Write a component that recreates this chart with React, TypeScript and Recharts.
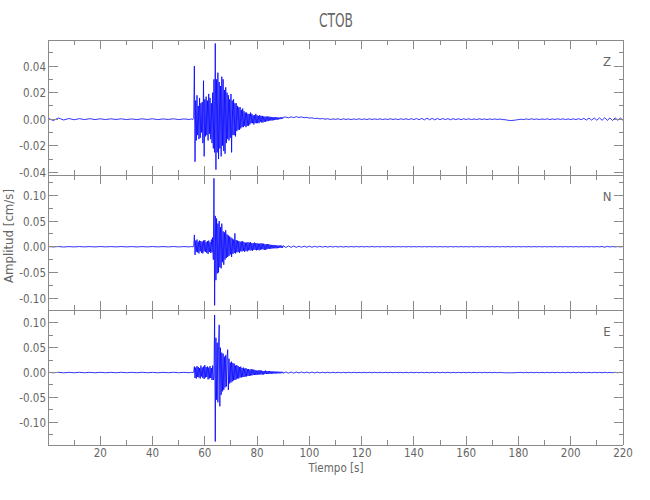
import React from 'react';
import { LineChart, Line, XAxis, YAxis } from 'recharts';

// ---- sample times (s) ----
const time = [
  0, 2, 4, 6, 8, 10, 12, 14, 16, 18, 20, 22, 24, 26, 28, 30, 32, 34, 36, 38, 40, 42, 44, 46, 48, 50, 52, 54, 55, 55.5,
  55.75,
  56, 56.25, 56.5, 56.75,
  57, 57.25, 57.5, 57.75,
  58, 58.25, 58.5, 58.75,
  59, 59.25, 59.5, 59.75,
  60, 60.25, 60.5, 60.75,
  61, 61.25, 61.5, 61.75,
  62, 62.25, 62.5, 62.75,
  63, 63.25, 63.5, 63.75,
  64, 64.25, 64.5, 64.75,
  65, 65.25, 65.5, 65.75,
  66, 66.25, 66.5, 66.75,
  67, 67.25, 67.5, 67.75,
  68, 68.25, 68.5, 68.75,
  69, 69.25, 69.5, 69.75,
  70, 70.25, 70.5, 70.75,
  71, 71.25, 71.5, 71.75,
  72, 72.25, 72.5, 72.75,
  73, 73.25, 73.5, 73.75,
  74, 74.25, 74.5, 74.75,
  75, 75.25, 75.5, 75.75,
  76, 76.25, 76.5, 76.75,
  77, 77.25, 77.5, 77.75,
  78, 78.25, 78.5, 78.75,
  79, 79.25, 79.5, 79.75,
  80, 80.25, 80.5, 80.75,
  81, 81.25, 81.5, 81.75,
  82, 82.25, 82.5, 82.75,
  83, 83.25, 83.5, 83.75,
  84, 84.25, 84.5, 84.75,
  85, 85.25, 85.5, 85.75,
  86, 86.25, 86.5, 86.75,
  87, 87.25, 87.5, 87.75,
  88, 88.25, 88.5, 88.75,
  89, 89.25, 89.5, 89.75,
  90,
  91, 92, 93, 94, 95, 96, 97, 98, 99, 100,
  101, 102, 103, 104, 105, 106, 107, 108, 109, 110,
  111, 112, 113, 114, 115, 116, 117, 118, 119, 120,
  121, 122, 123, 124, 125, 126, 127, 128, 129, 130,
  131, 132, 133, 134, 135, 136, 137, 138, 139, 140,
  141, 142, 143, 144, 145, 146, 147, 148, 149, 150,
  151, 152, 153, 154, 155, 156, 157, 158, 159, 160,
  161, 162, 163, 164, 165, 166, 167, 168, 169, 170,
  171, 172, 173, 174, 175, 176, 177, 178, 179, 180,
  181, 182, 183, 184, 185, 186, 187, 188, 189, 190,
  191, 192, 193, 194, 195, 196, 197, 198, 199, 200,
  201, 202, 203, 204, 205, 206, 207, 208, 209, 210,
  211, 212, 213, 214, 215, 216, 217, 218, 219, 220,
];

// ---- amplitudes, in units of 0.001 cm/s ----
const zMilli = [
  0.8, -1, 0.9, -0.6, 0.5, -0.4, 0.4, -0.3, 0.4, -0.3,
  0.3, -0.3, 0.3, -0.2, 0.3, -0.3, 0.2, -0.3, 0.3, -0.2,
  0.3, -0.3, 0.2, -0.2, 0.3, -0.3, 0.2, -0.2, 0.2, -0.2,
  0.4,
  40, -32, 14, -16,
  18, -12, 10, -15,
  16, -14, 12, -10,
  13, -18, 29, -28,
  15, -13, 17, -12,
  14, -16, 19, -11,
  16, -15, 12, -18,
  20, -22, 30, -25,
  57, -38, 30, -25,
  35, -30, 28, -22,
  25, -28, 32, -20,
  30, -24, 22, -26,
  24, -18, 20, -15,
  18, -16, 15, -14,
  19, -25, 14, -12,
  15, -12, 12, -13,
  12, -9, 10, -8,
  9, -8, 9, -7,
  7, -6, 8, -6,
  6, -5, 5, -6,
  5, -5, 4, -5,
  4, -4, 5, -3,
  4, -3, 3, -4,
  3, -3, 4, -3,
  3, -3, 2.5, -3,
  3, -2, 2.5, -2.5,
  2.5, -2.5, 2, -2,
  2, -2, 2, -1.5,
  2, -1.5, 2, -1,
  1.8, -1, 1.5, -1,
  1.5, -0.8, 1.6, -0.6,
  1.5, -0.5, 1.4, -0.3,
  1.4, -0.2, 1.2, 0,
  1.4, 0.2, 1.5, 0.4,
  1.5,
  1.6, 1.0, 1.8, 1.2, 1.9, 1.3, 1.7, 1.1, 1.4, 0.8,
  1.0, 0.5, 0.7, 0.2, 0.5, 0.0, 0.3, -0.2, 0.2, -0.1,
  0.3, -0.3, 0.3, -0.2, 0.2, -0.3, 0.2, -0.2, 0.3, -0.2,
  0.2, -0.3, 0.3, -0.2, 0.2, -0.2, 0.3, -0.3, 0.2, -0.2,
  0.3, -0.2, 0.2, -0.3, 0.3, -0.2, 0.3, -0.3, 0.4, -0.3,
  0.5, -0.4, 0.6, -0.5, 0.7, -0.4, 0.6, -0.5, 0.6, -0.4,
  0.5, -0.3, 0.4, -0.4, 0.4, -0.3, 0.3, -0.3, 0.3, -0.2,
  0.3, -0.3, 0.2, -0.3, 0.3, -0.2, 0.2, -0.3, 0.2, -0.2,
  0.2, -0.2, 0.1, -0.3, -0.4, -0.8, -1, -0.9, -0.6, -0.3,
  0, -0.3, 0.2, -0.2, 0.3, -0.2, 0.2, -0.3, 0.2, -0.2,
  0.3, -0.3, 0.2, -0.2, 0.3, -0.2, 0.3, -0.3, 0.2, -0.3,
  0.3, -0.3, 0.4, -0.4, 0.6, -0.6, 0.8, -0.7, 0.9, -0.8,
  1, -0.8, 1.1, -0.9, 0.9, -1, 1, -0.8, 0.9, -0.8,
];

const nMilli = [
  0.5, -0.4, 0.4, -0.5, 0.3, -0.4, 0.4, -0.3, 0.3, -0.4,
  0.4, -0.3, 0.3, -0.3, 0.4, -0.3, 0.3, -0.4, 0.3, -0.3,
  0.4, -0.3, 0.3, -0.3, 0.4, -0.4, 0.3, -0.3, 0.4, -0.3,
  0.5,
  23, -16, 12, -10,
  14, -11, 10, -13,
  12, -9, 11, -12,
  10, -13, 12, -9,
  13, -10, 9, -12,
  11, -14, 12, -10,
  9, -12, 14, -11,
  18, -25, 133, -114,
  60, -65, 55, -52,
  45, -50, 50, -40,
  38, -42, 45, -30,
  30, -35, 28, -25,
  32, -22, 24, -20,
  22, -18, 20, -15,
  18, -20, 16, -14,
  14, -12, 26, -13,
  13, -11, 12, -10,
  11, -12, 10, -9,
  10, -9, 11, -8,
  9, -10, 8, -8,
  8, -9, 9, -7,
  8, -7, 9, -7,
  7, -8, 7, -6,
  8, -6, 7, -7,
  7, -6, 6, -7,
  6, -6, 7, -5,
  6, -5, 6, -6,
  5, -6, 5, -5,
  5, -4, 5, -4,
  4, -4, 3.5, -3.5,
  3.5, -3, 3.5, -3,
  3, -3, 2.5, -3,
  2.5, -2.5, 2.5, -2,
  2.5, -2, 2, -2,
  2,
  -1.5, 1.5, -1.2, 1.4, -1.2, 1.1, -1, 1.1, -0.9, 0.9,
  -0.9, 0.8, -0.7, 0.8, -0.7, 0.6, -0.6, 0.6, -0.5, 0.6,
  -0.5, 0.5, -0.5, 0.4, -0.4, 0.4, -0.4, 0.4, -0.3, 0.4,
  -0.3, 0.3, -0.3, 0.4, -0.3, 0.3, -0.3, 0.3, -0.3, 0.3,
  -0.3, 0.3, -0.3, 0.3, -0.3, 0.3, -0.3, 0.3, -0.3, 0.3,
  -0.3, 0.3, -0.3, 0.3, -0.3, 0.3, -0.3, 0.3, -0.3, 0.3,
  -0.3, 0.3, -0.5, 0.4, -0.3, 0.3, -0.3, 0.3, -0.3, 0.3,
  -0.3, 0.3, -0.3, 0.3, -0.3, 0.3, -0.3, 0.3, -0.3, 0.3,
  -0.3, 0.3, -0.3, 0.3, -0.3, 0.3, -0.3, 0.3, -0.3, 0.3,
  -0.3, 0.3, -0.3, 0.3, -0.3, 0.3, -0.3, 0.3, -0.3, 0.3,
  -0.3, 0.3, -0.3, 0.3, -0.3, 0.3, -0.3, 0.3, -0.3, 0.3,
  -0.3, 0.3, -0.3, 0.3, -0.3, 0.3, -0.3, 0.3, -0.3, 0.3,
  -0.3, 0.5, -0.9, 0.7, -0.4, 0.3, -0.3, 0.3, -0.3, 0.3,
];

const eMilli = [
  0.6, -0.5, 0.5, -0.6, 0.4, -0.5, 0.5, -0.4, 0.4, -0.5,
  0.5, -0.4, 0.4, -0.5, 0.5, -0.4, 0.4, -0.4, 0.5, -0.4,
  0.4, -0.5, 0.4, -0.4, 0.5, -0.4, 0.4, -0.4, 0.5, -0.4,
  0.5,
  12, -11, 10, -12,
  13, -9, 11, -10,
  9, -12, 14, -8,
  10, -11, 12, -13,
  15, -10, 11, -9,
  12, -14, 10, -12,
  13, -11, 9, -15,
  14, -15, -8, 116,
  -139, 70, -55, 60,
  -60, 55, 96, -68,
  50, -45, 40, -38,
  38, -35, 32, -30,
  35, -28, 30, 46,
  -35, 28, -22, 20,
  -20, 22, -18, 19,
  -16, 18, -15, 14,
  -14, 15, -12, 13,
  -12, 11, -10, 12,
  -10, 9, -9, 10,
  -9, 8, -8, 9,
  -8, 7, -7, 7,
  -7, 6, -6, 7,
  -6, 6, -5, 6,
  -5, 5, -5, 4,
  -5, 4, -4, 5,
  -4, 4, -4, 4,
  -4, 3, -4, 3,
  -3, 4, -3, 3,
  -3, 3, -3, 3,
  -2.5, 2.5, -2.5, 2.5,
  -2.5, 2, -2, 2,
  -2, 2, -1.8, 1.8,
  -1.8, 1.6, -1.6, 1.6,
  -1.5, 1.5, -1.4, 1.4,
  -1.3,
  1.2, -1.1, 1, -1.1, 1, -0.9, 1, -0.8, 0.9, -0.8,
  0.8, -0.7, 0.8, -0.7, 0.6, -0.7, 0.6, -0.6, 0.6, -0.5,
  0.5, -0.5, 0.5, -0.5, 0.5, -0.4, 0.5, -0.4, 0.4, -0.4,
  0.4, -0.4, 0.5, -0.4, 0.4, -0.4, 0.4, -0.4, 0.4, -0.4,
  0.4, -0.4, 0.4, -0.4, 0.4, -0.4, 0.4, -0.4, 0.4, -0.4,
  0.4, -0.4, 0.4, -0.4, 0.4, -0.4, 0.4, -0.4, 0.4, -0.4,
  0.4, -0.4, 0.4, -0.4, 0.4, -0.4, 0.4, -0.4, 0.4, -0.4,
  0.4, -0.4, 0.4, -0.4, 0.4, -0.4, 0.4, -0.4, 0.4, -0.4,
  0.4, -0.4, 0.3, -0.3, -0.5, -0.6, -0.5, -0.4, -0.2, 0,
  0.4, -0.4, 0.4, -0.4, 0.4, -0.4, 0.4, -0.4, 0.4, -0.4,
  0.4, -0.4, 0.4, -0.4, 0.4, -0.4, 0.4, -0.4, 0.4, -0.4,
  0.4, -0.4, 0.4, -0.4, 0.4, -0.4, 0.4, -0.4, 0.4, -0.4,
  0.4, -0.4, 0.4, -0.4, 0.4, -0.4, 0.4, -0.4, 0.4, -0.4,
];

// ---- axis ticks ----
const xTicks = [10, 20, 30, 40, 50, 60, 70, 80, 90, 100, 110, 120, 130, 140, 150, 160, 170, 180, 190, 200, 210, 220];
const xMajor = [20, 40, 60, 80, 100, 120, 140, 160, 180, 200, 220];
const zTicks = [-0.04, -0.03, -0.02, -0.01, 0, 0.01, 0.02, 0.03, 0.04, 0.05];
const zMajor = [-0.04, -0.02, 0, 0.02, 0.04];
const nTicks = [-0.1, -0.075, -0.05, -0.025, 0, 0.025, 0.05, 0.075, 0.1, 0.125];
const eTicks = [-0.125, -0.1, -0.075, -0.05, -0.025, 0, 0.025, 0.05, 0.075, 0.1, 0.125];
const neMajor = [-0.1, -0.05, 0, 0.05, 0.1];

const zDomain = [-0.042, 0.0596];
const nDomain = [-0.123, 0.1395];
const eDomain = [-0.146, 0.126];

const table = time.map((t, i) => ({
  t,
  z: zMilli[i] / 1000,
  n: nMilli[i] / 1000,
  e: eMilli[i] / 1000,
}));

const FONT = '"Liberation Sans Narrow", "DejaVu Sans Condensed", "Liberation Sans", sans-serif';
const AXIS = '#8a8a8a';
const TEXT = '#666666';
const TRACE = '#0000ff';

const isMajor = (v: number, majors: number[]) => majors.some((m) => Math.abs(m - v) < 1e-9);

const fmtY = (v: number) => {
  const s = Math.abs(v).toFixed(2);
  return v < -1e-9 ? '-' + s : s;
};

const makeBottomTick = (showLabel: boolean) => (props: any) => {
  const { x, y, payload } = props;
  const v = payload.value;
  const major = isMajor(v, xMajor);
  const len = major ? 9 : 5;
  return (
    <g>
      <line x1={x} y1={y} x2={x} y2={y - len} stroke={AXIS} strokeWidth={1} shapeRendering="crispEdges" />
      {showLabel && major ? (
        <text x={x} y={y + 12} textAnchor="middle" fontSize={11.5} fontFamily={FONT} fill={TEXT}>
          {String(v)}
        </text>
      ) : null}
    </g>
  );
};

const TopTick = (props: any) => {
  const { x, y, payload } = props;
  const len = isMajor(payload.value, xMajor) ? 9 : 5;
  return <line x1={x} y1={y} x2={x} y2={y + len} stroke={AXIS} strokeWidth={1} shapeRendering="crispEdges" />;
};

const makeLeftTick = (majors: number[]) => (props: any) => {
  const { x, y, payload } = props;
  const v = payload.value;
  const major = isMajor(v, majors);
  const len = major ? 10 : 5;
  return (
    <g>
      <line x1={x} y1={y} x2={x + len} y2={y} stroke={AXIS} strokeWidth={1} shapeRendering="crispEdges" />
      {major ? (
        <text x={x - 2} y={y + 4.5} textAnchor="end" fontSize={11.5} fontFamily={FONT} fill={TEXT}>
          {fmtY(v)}
        </text>
      ) : null}
    </g>
  );
};

const makeRightTick = (majors: number[]) => (props: any) => {
  const { x, y, payload } = props;
  const len = isMajor(payload.value, majors) ? 9 : 4;
  return <line x1={x} y1={y} x2={x - len} y2={y} stroke={AXIS} strokeWidth={1} shapeRendering="crispEdges" />;
};

type PanelProps = {
  top: number;
  dataKey: string;
  domain: number[];
  ticks: number[];
  majors: number[];
  last: boolean;
};

const Panel = ({ top, dataKey, domain, ticks, majors, last }: PanelProps) => {
  const bottomH = last ? 40 : 10;
  const axisLine = { stroke: AXIS, strokeWidth: 1, shapeRendering: 'crispEdges' } as any;
  return (
    <div style={{ position: 'absolute', left: 0, top, width: 650, height: 10 + 135 + bottomH }}>
      <LineChart
        width={650}
        height={10 + 135 + bottomH}
        data={table}
        margin={{ top: 0, right: 0, bottom: 0, left: 0 }}
      >
        <XAxis
          dataKey="t"
          type="number"
          domain={[0, 220]}
          allowDataOverflow
          ticks={xTicks}
          interval={0}
          height={bottomH}
          tickSize={0}
          tickMargin={0}
          tickLine={false}
          axisLine={axisLine}
          tick={makeBottomTick(last)}
        />
        <XAxis
          xAxisId="top"
          orientation="top"
          dataKey="t"
          type="number"
          domain={[0, 220]}
          allowDataOverflow
          ticks={xTicks}
          interval={0}
          height={10}
          tickSize={0}
          tickMargin={0}
          tickLine={false}
          axisLine={axisLine}
          tick={TopTick}
        />
        <YAxis
          type="number"
          domain={domain}
          allowDataOverflow
          ticks={ticks}
          interval={0}
          width={48}
          tickSize={0}
          tickMargin={0}
          tickLine={false}
          axisLine={axisLine}
          tick={makeLeftTick(majors)}
        />
        <YAxis
          yAxisId="r"
          orientation="right"
          type="number"
          domain={domain}
          allowDataOverflow
          ticks={ticks}
          interval={0}
          width={27}
          tickSize={0}
          tickMargin={0}
          tickLine={false}
          axisLine={axisLine}
          tick={makeRightTick(majors)}
        />
        <Line
          type="linear"
          dataKey={dataKey}
          stroke={TRACE}
          strokeWidth={0.8}
          dot={false}
          activeDot={false}
          isAnimationActive={false}
        />
      </LineChart>
    </div>
  );
};

export default function App() {
  return (
    <div style={{ position: 'absolute', left: 0, top: 0, width: 650, height: 500, background: '#ffffff', overflow: 'hidden' }}>
      <Panel top={30} dataKey="z" domain={zDomain} ticks={zTicks} majors={zMajor} last={false} />
      <Panel top={165} dataKey="n" domain={nDomain} ticks={nTicks} majors={neMajor} last={false} />
      <Panel top={300} dataKey="e" domain={eDomain} ticks={eTicks} majors={neMajor} last={true} />
      <svg
        width={650}
        height={500}
        style={{ position: 'absolute', left: 0, top: 0, pointerEvents: 'none' }}
      >
        <text x={336} y={27} textAnchor="middle" fontSize={19} fontFamily={FONT} fill={TEXT} textLength={34} lengthAdjust="spacingAndGlyphs">
          CTOB
        </text>
        <text x={607} y={66} textAnchor="middle" fontSize={13} fontFamily={FONT} fill={TEXT}>Z</text>
        <text x={607} y={201} textAnchor="middle" fontSize={13} fontFamily={FONT} fill={TEXT}>N</text>
        <text x={607} y={336} textAnchor="middle" fontSize={13} fontFamily={FONT} fill={TEXT}>E</text>
        <text x={336} y={472} textAnchor="middle" fontSize={11.5} fontFamily={FONT} fill={TEXT}>
          Tiempo  [s]
        </text>
        <text
          x={0}
          y={0}
          transform="translate(13,236) rotate(-90)"
          textAnchor="middle"
          fontSize={12}
          fontFamily={FONT}
          fill={TEXT}
          textLength={94}
          lengthAdjust="spacingAndGlyphs"
        >
          Amplitud  [cm/s]
        </text>
      </svg>
    </div>
  );
}
